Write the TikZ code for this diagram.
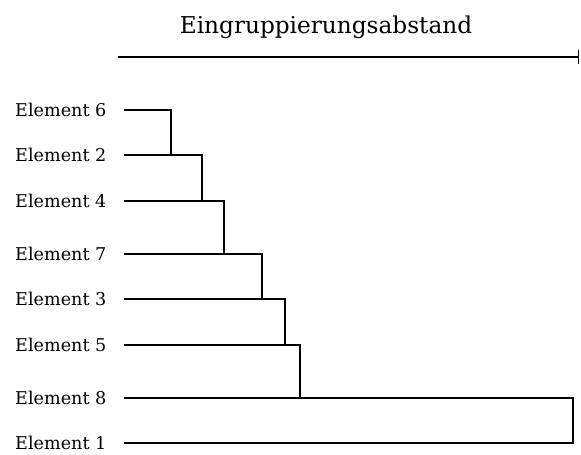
\documentclass[tikz,border=0pt]{standalone}
\usepackage{fontspec}
\setmainfont{DejaVu Serif}
\begin{document}
\begin{tikzpicture}[x=1pt,y=-1pt,
  leaflabel/.style={anchor=west,inner sep=0pt,font=\fontsize{17.6}{20}\selectfont},
  branch/.style={line width=2pt,line cap=rect},
  axisline/.style={line width=1.3pt}]
\useasboundingbox (0,0) rectangle (581,455);
% title and distance axis
\node[font=\fontsize{23.2}{27}\selectfont] (title) at (326,27) {Eingruppierungsabstand};
\coordinate (ax0) at (118,57);
\coordinate (ax1) at (578,57);
\draw[axisline] (ax0) -- (ax1);
\draw[line width=1pt] ([yshift=-7pt]ax1) -- ([yshift=7pt]ax1);
% leaf labels and leaf starts
\foreach \nm/\yy in {6/110,2/155,4/201,7/254,3/299,5/345,8/398,1/443}{
  \node[leaflabel] (lab\nm) at (15,\yy) {Element \nm};
  \coordinate (leaf\nm) at (125,\yy);
}
% merge heights
\coordinate (m1) at (171,0);
\coordinate (m2) at (202,0);
\coordinate (m3) at (224,0);
\coordinate (m4) at (262,0);
\coordinate (m5) at (285,0);
\coordinate (m6) at (300,0);
\coordinate (m7) at (573,0);
% dendrogram branches
\draw[branch] (leaf6) -- (leaf6 -| m1) -- (leaf2 -| m1);
\draw[branch] (leaf2) -- (leaf2 -| m2) -- (leaf4 -| m2);
\draw[branch] (leaf4) -- (leaf4 -| m3) -- (leaf7 -| m3);
\draw[branch] (leaf7) -- (leaf7 -| m4) -- (leaf3 -| m4);
\draw[branch] (leaf3) -- (leaf3 -| m5) -- (leaf5 -| m5);
\draw[branch] (leaf5) -- (leaf5 -| m6) -- (leaf8 -| m6);
\draw[branch] (leaf8) -- (leaf8 -| m7) -- (leaf1 -| m7) -- (leaf1);
\end{tikzpicture}
\end{document}
